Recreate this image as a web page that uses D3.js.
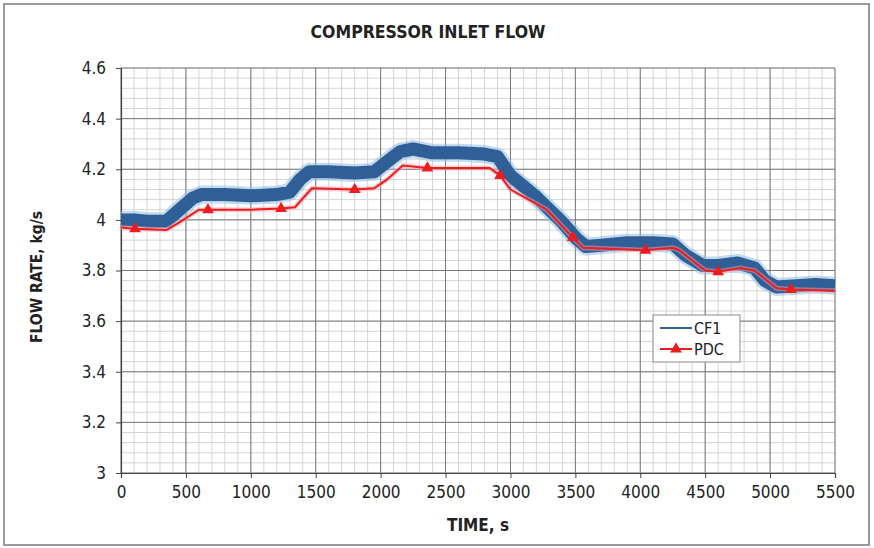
<!DOCTYPE html>
<html>
<head>
<meta charset="utf-8">
<script src="https://cdn.jsdelivr.net/npm/d3@7/dist/d3.min.js"></script>
<style>
  body { margin: 0; background: #fff; }
  text { font-family: "DejaVu Sans Condensed", "DejaVu Sans", sans-serif; fill: #222; }
</style>
</head>
<body>
<svg id="chart" width="874" height="548"></svg>
<script>
// CF1 flow rate (kg/s) against time (s)
const cf1Time  = [0, 100, 200, 350, 450, 550, 620, 800, 1000, 1200, 1300, 1380, 1450, 1600, 1800, 1950, 2050, 2150, 2250, 2400, 2600, 2800, 2900, 3000, 3200, 3400, 3500, 3580, 3700, 3900, 4100, 4250, 4350, 4480, 4600, 4750, 4880, 4960, 5050, 5200, 5350, 5500];
const cf1Value = [4.00, 4.00, 3.995, 3.995, 4.04, 4.085, 4.10, 4.10, 4.095, 4.10, 4.11, 4.16, 4.19, 4.19, 4.185, 4.19, 4.23, 4.27, 4.28, 4.265, 4.265, 4.26, 4.25, 4.175, 4.09, 3.99, 3.93, 3.895, 3.90, 3.91, 3.91, 3.905, 3.86, 3.82, 3.82, 3.83, 3.81, 3.76, 3.735, 3.74, 3.745, 3.74];

// PDC flow rate (kg/s) against time (s)
const pdcTime  = [0, 108, 350, 450, 600, 670, 1000, 1233, 1340, 1470, 1800, 1950, 2050, 2170, 2360, 2840, 2920, 3000, 3280, 3480, 3560, 3800, 4040, 4250, 4300, 4500, 4600, 4770, 4880, 5050, 5160, 5500];
const pdcValue = [3.97, 3.965, 3.96, 3.99, 4.04, 4.04, 4.04, 4.045, 4.05, 4.125, 4.12, 4.125, 4.16, 4.215, 4.205, 4.205, 4.175, 4.12, 4.04, 3.93, 3.89, 3.885, 3.88, 3.89, 3.88, 3.80, 3.795, 3.81, 3.80, 3.73, 3.725, 3.72];
// PDC marker positions
const pdcMarkTime  = [108, 670, 1233, 1800, 2360, 2920, 3480, 4040, 4600, 5160];
const pdcMarkValue = [3.965, 4.04, 4.045, 4.12, 4.205, 4.175, 3.93, 3.88, 3.795, 3.725];

const xTicks = [0, 500, 1000, 1500, 2000, 2500, 3000, 3500, 4000, 4500, 5000, 5500];
const yTicks = [3, 3.2, 3.4, 3.6, 3.8, 4, 4.2, 4.4, 4.6];
const seriesNames = ["CF1", "PDC"];

const svg = d3.select("#chart");
const plotLeft = 121, plotRight = 835, plotTop = 68, plotBottom = 473;

const x = d3.scaleLinear().domain([0, 5500]).range([plotLeft, plotRight]);
const y = d3.scaleLinear().domain([3, 4.6]).range([plotBottom, plotTop]);

// outer frame
svg.append("rect").attr("x", 4).attr("y", 4).attr("width", 865).attr("height", 541)
  .attr("fill", "#fff").attr("stroke", "#9a9a9a").attr("stroke-width", 2);

// minor grid
const minorX = d3.range(0, 5501, 100);
const minorY = d3.range(0, 41).map(i => 3 + i * 0.04);
const grid = svg.append("g");
grid.selectAll(".mx").data(minorX).join("line")
  .attr("x1", d => x(d)).attr("x2", d => x(d)).attr("y1", plotTop).attr("y2", plotBottom)
  .attr("stroke", "#d4d4d4").attr("stroke-width", 1);
grid.selectAll(".my").data(minorY).join("line")
  .attr("x1", plotLeft).attr("x2", plotRight).attr("y1", d => y(d)).attr("y2", d => y(d))
  .attr("stroke", "#d4d4d4").attr("stroke-width", 1);
// major grid
grid.selectAll(".Mx").data(xTicks).join("line")
  .attr("x1", d => x(d)).attr("x2", d => x(d)).attr("y1", plotTop).attr("y2", plotBottom)
  .attr("stroke", "#7a7a7a").attr("stroke-width", 1);
grid.selectAll(".My").data(yTicks).join("line")
  .attr("x1", plotLeft).attr("x2", plotRight).attr("y1", d => y(d)).attr("y2", d => y(d))
  .attr("stroke", "#7a7a7a").attr("stroke-width", 1);

// axes
const xAxis = svg.append("g").attr("transform", `translate(0,${plotBottom})`)
  .call(d3.axisBottom(x).tickValues(xTicks).tickFormat(d3.format("d")).tickSize(5).tickPadding(8));
const yAxis = svg.append("g").attr("transform", `translate(${plotLeft},0)`)
  .call(d3.axisLeft(y).tickValues(yTicks).tickFormat(d => String(d)).tickSize(5).tickPadding(10));
[xAxis, yAxis].forEach(a => {
  a.select(".domain").attr("stroke", "#444").attr("stroke-width", 1.2);
  a.selectAll(".tick line").attr("stroke", "#444");
  a.selectAll("text").attr("font-size", 17).attr("fill", "#222")
    .attr("font-family", "'DejaVu Sans Condensed', 'DejaVu Sans', sans-serif");
});

// series
const cf1 = cf1Time.map((t, i) => [t, cf1Value[i]]);
const pdc = pdcTime.map((t, i) => [t, pdcValue[i]]);
const line = d3.line().x(d => x(d[0])).y(d => y(d[1]));

svg.append("path").datum(cf1).attr("d", line).attr("fill", "none")
  .attr("stroke", "#8fbde0").attr("stroke-width", 18).attr("stroke-opacity", 0.55)
  .attr("stroke-linejoin", "round");
svg.append("path").datum(cf1).attr("d", line).attr("fill", "none")
  .attr("stroke", "#2f5f96").attr("stroke-width", 13).attr("stroke-linejoin", "round");

svg.append("path").datum(pdc).attr("d", line).attr("fill", "none")
  .attr("stroke", "#f7a0b0").attr("stroke-width", 5).attr("stroke-opacity", 0.5);
svg.append("path").datum(pdc).attr("d", line).attr("fill", "none")
  .attr("stroke", "#ee1c1c").attr("stroke-width", 2);

const tri = d3.symbol().type(d3.symbolTriangle).size(60);
svg.selectAll(".mk").data(pdcMarkTime.map((t, i) => [t, pdcMarkValue[i]])).join("path")
  .attr("d", tri).attr("transform", d => `translate(${x(d[0])},${y(d[1])})`)
  .attr("fill", "#ee1c1c");

// titles
svg.append("text").attr("x", 428).attr("y", 38).attr("text-anchor", "middle")
  .attr("font-size", 17.5).attr("font-weight", "bold").text("COMPRESSOR INLET FLOW");
svg.append("text").attr("x", 478).attr("y", 531).attr("text-anchor", "middle")
  .attr("font-size", 17).attr("font-weight", "bold").text("TIME, s");
svg.append("text").attr("transform", "translate(42,277) rotate(-90)").attr("text-anchor", "middle")
  .attr("font-size", 15.5).attr("font-weight", "bold").text("FLOW RATE, kg/s");

// legend
const lg = svg.append("g");
lg.append("rect").attr("x", 653).attr("y", 315).attr("width", 87).attr("height", 47)
  .attr("fill", "#fff").attr("stroke", "#8a8a8a");
const legendColors = ["#2f5f96", "#ee1c1c"];
seriesNames.forEach((name, i) => {
  const ly = 328 + i * 21;
  lg.append("line").attr("x1", 660).attr("x2", 692).attr("y1", ly).attr("y2", ly)
    .attr("stroke", legendColors[i]).attr("stroke-width", 2);
  if (i === 1) {
    lg.append("path").attr("d", tri).attr("transform", `translate(676,${ly})`).attr("fill", legendColors[i]);
  }
  lg.append("text").attr("x", 694).attr("y", ly + 6).attr("font-size", 16).text(name);
});
</script>
</body>
</html>
